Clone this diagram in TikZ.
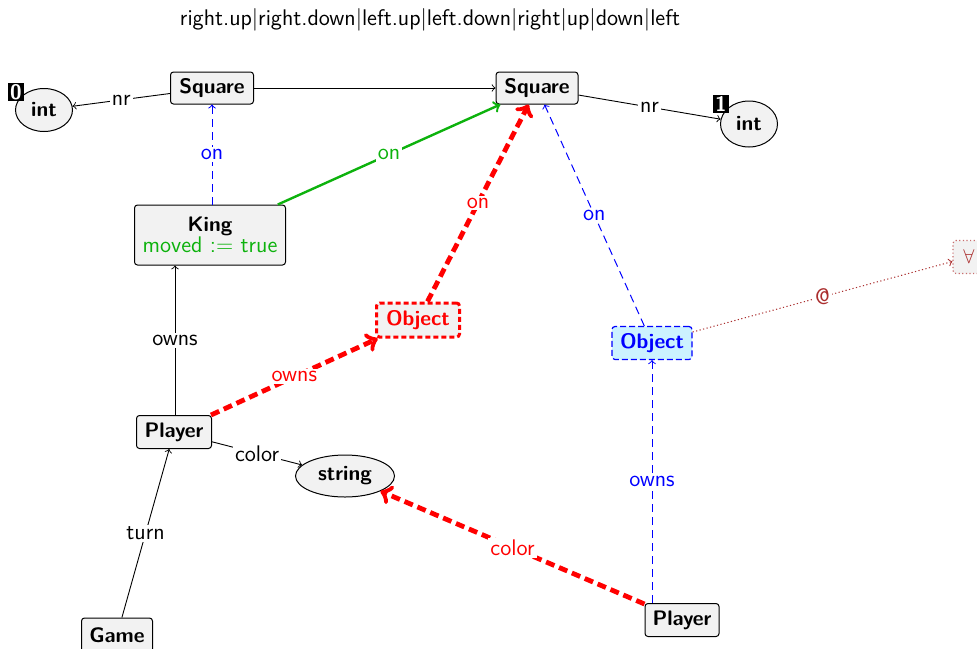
\documentclass[tikz,border=0pt]{standalone}
\usetikzlibrary{shapes.geometric}
\renewcommand{\familydefault}{\sfdefault}
\definecolor{boxgray}{gray}{0.95}
\definecolor{okgreen}{rgb}{0.05,0.70,0.05}
\definecolor{lightcyan}{RGB}{204,242,255}
\definecolor{brownred}{RGB}{170,45,45}
\definecolor{softbrown}{RGB}{200,110,110}
\newcommand{\nodebold}{\fontsize{10.5}{12.5}\bfseries\selectfont}
\tikzset{
  typebox/.style={draw, rounded corners=1.5pt, fill=boxgray, font=\nodebold,
    line width=0.5pt, inner xsep=2pt, inner ysep=0pt, minimum height=16pt},
  typeoval/.style={ellipse, draw, fill=boxgray, font=\nodebold,
    line width=0.5pt, inner sep=0pt},
  idxtag/.style={fill=black, text=white, font=\nodebold, inner sep=0.5pt,
    minimum width=8pt, minimum height=9pt},
  lbl/.style={fill=white, inner sep=1pt, midway},
  edgeblack/.style={->, line width=0.45pt},
  edgeblue/.style={->, blue, line width=0.5pt, dash pattern=on 4pt off 2.5pt},
  edgegreen/.style={->, okgreen, line width=1.2pt},
  edgered/.style={->, red, line width=2.4pt, dash pattern=on 4.5pt off 2.5pt},
  edgeat/.style={->, brownred, line width=0.5pt, dash pattern=on 0.6pt off 1.2pt},
}
\begin{document}
\begin{tikzpicture}[x=0.5pt, y=-0.5pt, font=\fontsize{11.3}{13.5}\selectfont]
  \useasboundingbox (0,0) rectangle (977,648);

  \node (title) at (430,20) {right.up|right.down|left.up|left.down|right|up|down|left};

  % types and graph nodes
  \node[typebox, minimum width=41.5pt] (sqA) at (212,88) {Square};
  \node[typebox, minimum width=41pt] (sqB) at (537,88) {Square};
  \node[typeoval, minimum width=28.5pt, minimum height=21.5pt] (intA) at (44,110) {int};
  \node[typeoval, minimum width=28.5pt, minimum height=23pt] (intB) at (749,124) {int};
  \node[idxtag] (tagA) at (16,92) {0};
  \node[idxtag] (tagB) at (721,104) {1};
  \node[typebox, align=center, minimum width=75.5pt, minimum height=30pt,
        inner ysep=2pt] (king) at (210,235)
        {King\\[-2pt]\fontsize{11.3}{13.5}\mdseries\selectfont\color{okgreen}moved := true};
  \node[typebox, draw=red, text=red, line width=1.5pt, minimum width=41.5pt,
        dash pattern=on 2.5pt off 1.5pt, minimum height=17pt] (objR) at (418,320) {Object};
  \node[typebox, draw=blue, fill=lightcyan, text=blue, line width=0.6pt,
        minimum width=40pt, minimum height=16.5pt,
        dash pattern=on 3pt off 1.5pt] (objB) at (652,343) {Object};
  \node[typebox, draw=softbrown, text=brownred, font=\mdseries, line width=0.6pt,
        dash pattern=on 0.6pt off 1.2pt, minimum width=16pt, minimum height=16.5pt]
        (forall) at (969,257) {$\forall$};
  \node[typebox, minimum width=37.5pt, minimum height=16.5pt] (plA) at (174,432) {Player};
  \node[typeoval, minimum width=49.5pt, minimum height=21pt] (str) at (345,476) {string};
  \node[typebox, minimum width=35.5pt, minimum height=17pt] (game) at (117,635) {Game};
  \node[typebox, minimum width=37pt, minimum height=16.5pt] (plB) at (682,620) {Player};

  % edges
  \draw[edgeblack] (sqA) -- (sqB);
  \draw[edgeblack] (sqA) -- node[lbl] {nr} (intA);
  \draw[edgeblack] (sqB) -- node[lbl] {nr} (intB);
  \draw[edgeblue] (king.north -| sqA) -- node[lbl] {on} (sqA);
  \draw[edgegreen] (king) -- node[lbl, text=okgreen] {on} (sqB);
  \draw[edgered] (objR) -- node[lbl, text=red] {on} (sqB);
  \draw[edgeblue] (objB) -- node[lbl] {on} (sqB);
  \draw[edgeat] (objB) -- node[lbl, text=brownred] {@} (forall);
  \draw[edgeblack] (plA.north -| 175,0) -- node[lbl] {owns} (king.south -| 175,0);
  \draw[edgered] (plA) -- node[lbl, text=red] {owns} (objR);
  \draw[edgeblack] (plA) -- node[lbl] {color} (str);
  \draw[edgeblack] (game) -- node[lbl] {turn} (plA);
  \draw[edgered] (plB) -- node[lbl, text=red] {color} (str);
  \draw[edgeblue] (plB.north -| objB) -- node[lbl] {owns} (objB);
\end{tikzpicture}
\end{document}
